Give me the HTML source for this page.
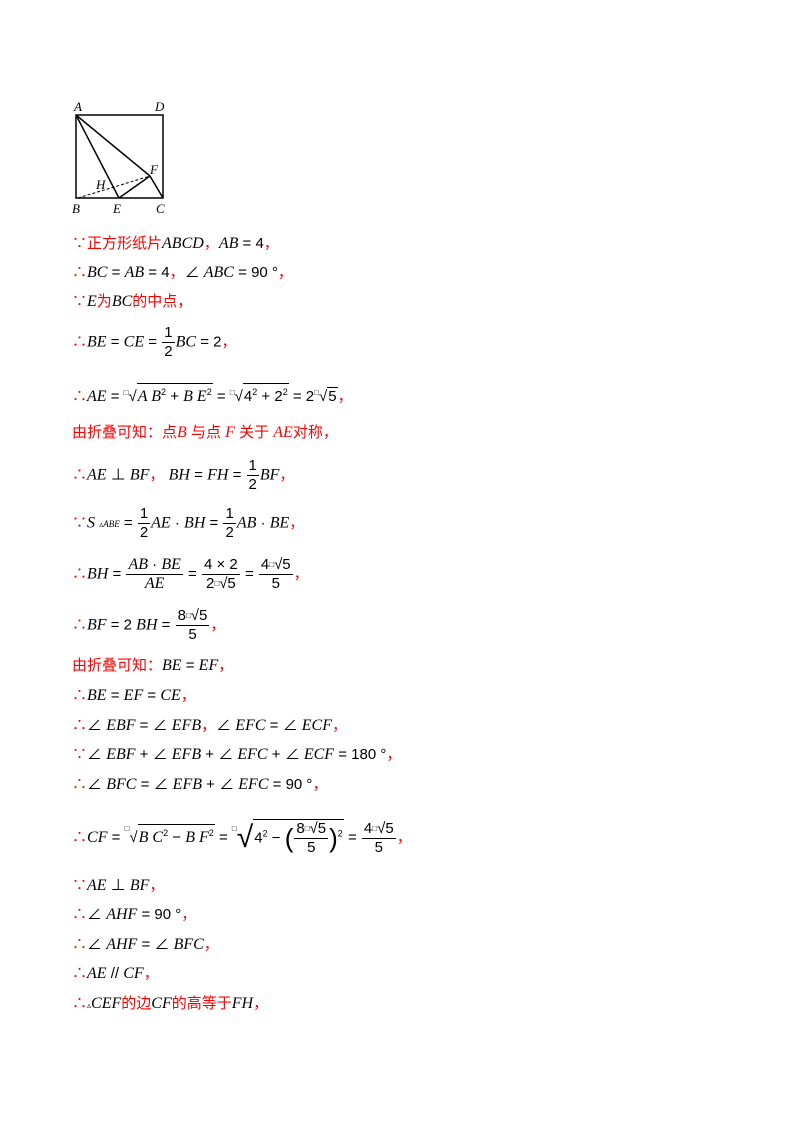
<!DOCTYPE html>
<html><head><meta charset="utf-8"><style>
body{margin:0;width:800px;height:1132px;background:#fff;position:relative;font-family:"Liberation Sans","Noto Sans CJK SC",sans-serif;font-size:15px;color:#000}
.l{position:absolute;left:72px;white-space:nowrap;line-height:20px}
.r{color:#f00}
i{font-family:"Liberation Serif",serif;font-style:italic;font-size:16px}
.fr{display:inline-block;vertical-align:middle;text-align:center;line-height:18px;margin:0 1px}
.fr>span{display:block;padding:0 2px}
.fr>span+span{border-top:1px solid #000}
.sq{display:inline-block;border-top:1px solid #000;line-height:17px;padding:0 1px}
.b{font-size:8px;vertical-align:top}
sup{font-size:9px}
.s{font-size:8px}
</style></head><body>
<svg style="position:absolute;left:0;top:0" width="800" height="220">
<g stroke="#000" stroke-width="1.5" fill="none">
<rect x="76" y="115" width="87" height="83"/>
<line x1="76" y1="115" x2="119" y2="198"/>
<line x1="76" y1="115" x2="150" y2="176"/>
<line x1="150" y1="176" x2="163" y2="198"/>
<line x1="119" y1="198" x2="150" y2="176"/>
<line x1="78" y1="198" x2="150" y2="176" stroke-dasharray="3,2" stroke-width="1"/>
</g>
<g font-family="Liberation Serif" font-style="italic" font-size="13">
<text x="74" y="111">A</text><text x="155" y="111">D</text>
<text x="72" y="213">B</text><text x="113" y="213">E</text><text x="156" y="213">C</text>
<text x="150" y="174">F</text><text x="96" y="189">H</text></g>
</svg>
<div class="l" style="top:234px"><span class="r">∵正方形纸片</span><i>ABCD</i><span class="r">，</span><i>AB</i> = 4<span class="r">，</span></div>
<div class="l" style="top:263px"><span class="r">∴</span><i>BC</i> = <i>AB</i> = 4<span class="r">，</span>∠ <i>ABC</i> = 90 °<span class="r">，</span></div>
<div class="l" style="top:292px"><span class="r">∵</span><i>E</i><span class="r">为</span><i>BC</i><span class="r">的中点，</span></div>
<div class="l" style="top:324px"><span class="r">∴</span><i>BE</i> = <i>CE</i> = <span class="fr"><span>1</span><span>2</span></span><i>BC</i> = 2<span class="r">，</span></div>
<div class="l" style="top:383px"><span class="r">∴</span><i>AE</i> = <span class="b">□</span>√<span class="sq"><i>A B</i><sup>2</sup> + <i>B E</i><sup>2</sup></span> = <span class="b">□</span>√<span class="sq">4<sup>2</sup> + 2<sup>2</sup></span> = 2<span class="b">□</span>√<span class="sq">5</span><span class="r">，</span></div>
<div class="l r" style="top:423px">由折叠可知：点<i>B</i> 与点 <i>F</i> 关于 <i>AE</i>对称，</div>
<div class="l" style="top:457px"><span class="r">∴</span><i>AE</i> ⊥ <i>BF</i><span class="r">，</span> <i>BH</i> = <i>FH</i> = <span class="fr"><span>1</span><span>2</span></span><i>BF</i><span class="r">，</span></div>
<div class="l" style="top:505px"><span class="r">∵</span><i>S</i> <span class="s">▵<i style="font-size:9px">ABE</i></span> = <span class="fr"><span>1</span><span>2</span></span><i>AE</i> · <i>BH</i> = <span class="fr"><span>1</span><span>2</span></span><i>AB</i> · <i>BE</i><span class="r">，</span></div>
<div class="l" style="top:556px"><span class="r">∴</span><i>BH</i> = <span class="fr"><span><i>AB</i> · <i>BE</i></span><span><i>AE</i></span></span> = <span class="fr"><span>4 × 2</span><span>2<span class="b">□</span>√5</span></span> = <span class="fr"><span>4<span class="b">□</span>√5</span><span>5</span></span><span class="r">，</span></div>
<div class="l" style="top:607px"><span class="r">∴</span><i>BF</i> = 2 <i>BH</i> = <span class="fr"><span>8<span class="b">□</span>√5</span><span>5</span></span><span class="r">，</span></div>
<div class="l" style="top:656px"><span class="r">由折叠可知：</span><i>BE</i> = <i>EF</i><span class="r">，</span></div>
<div class="l" style="top:686px"><span class="r">∴</span><i>BE</i> = <i>EF</i> = <i>CE</i><span class="r">，</span></div>
<div class="l" style="top:716px"><span class="r">∴</span>∠ <i>EBF</i> = ∠ <i>EFB</i><span class="r">，</span>∠ <i>EFC</i> = ∠ <i>ECF</i><span class="r">，</span></div>
<div class="l" style="top:745px"><span class="r">∵</span>∠ <i>EBF</i> + ∠ <i>EFB</i> + ∠ <i>EFC</i> + ∠ <i>ECF</i> = 180 °<span class="r">，</span></div>
<div class="l" style="top:775px"><span class="r">∴</span>∠ <i>BFC</i> = ∠ <i>EFB</i> + ∠ <i>EFC</i> = 90 °<span class="r">，</span></div>
<div class="l" style="top:819px"><span class="r">∴</span><i>CF</i> = <span class="b">□</span>√<span class="sq"><i>B C</i><sup>2</sup> − <i>B F</i><sup>2</sup></span> = <span class="b">□</span><span style="font-size:30px;vertical-align:middle">√</span><span class="sq" style="vertical-align:middle">4<sup>2</sup> − <span style="font-size:26px;vertical-align:middle">(</span><span class="fr"><span>8<span class="b">□</span>√5</span><span>5</span></span><span style="font-size:26px;vertical-align:middle">)</span><sup>2</sup></span> = <span class="fr"><span>4<span class="b">□</span>√5</span><span>5</span></span><span class="r">，</span></div>
<div class="l" style="top:876px"><span class="r">∵</span><i>AE</i> ⊥ <i>BF</i><span class="r">，</span></div>
<div class="l" style="top:905px"><span class="r">∴</span>∠ <i>AHF</i> = 90 °<span class="r">，</span></div>
<div class="l" style="top:935px"><span class="r">∴</span>∠ <i>AHF</i> = ∠ <i>BFC</i><span class="r">，</span></div>
<div class="l" style="top:964px"><span class="r">∴</span><i>AE</i> // <i>CF</i><span class="r">，</span></div>
<div class="l" style="top:994px"><span class="r">∴</span><span class="s">▵</span><i>CEF</i><span class="r">的边</span><i>CF</i><span class="r">的高等于</span><i>FH</i><span class="r">，</span></div>
</body></html>
